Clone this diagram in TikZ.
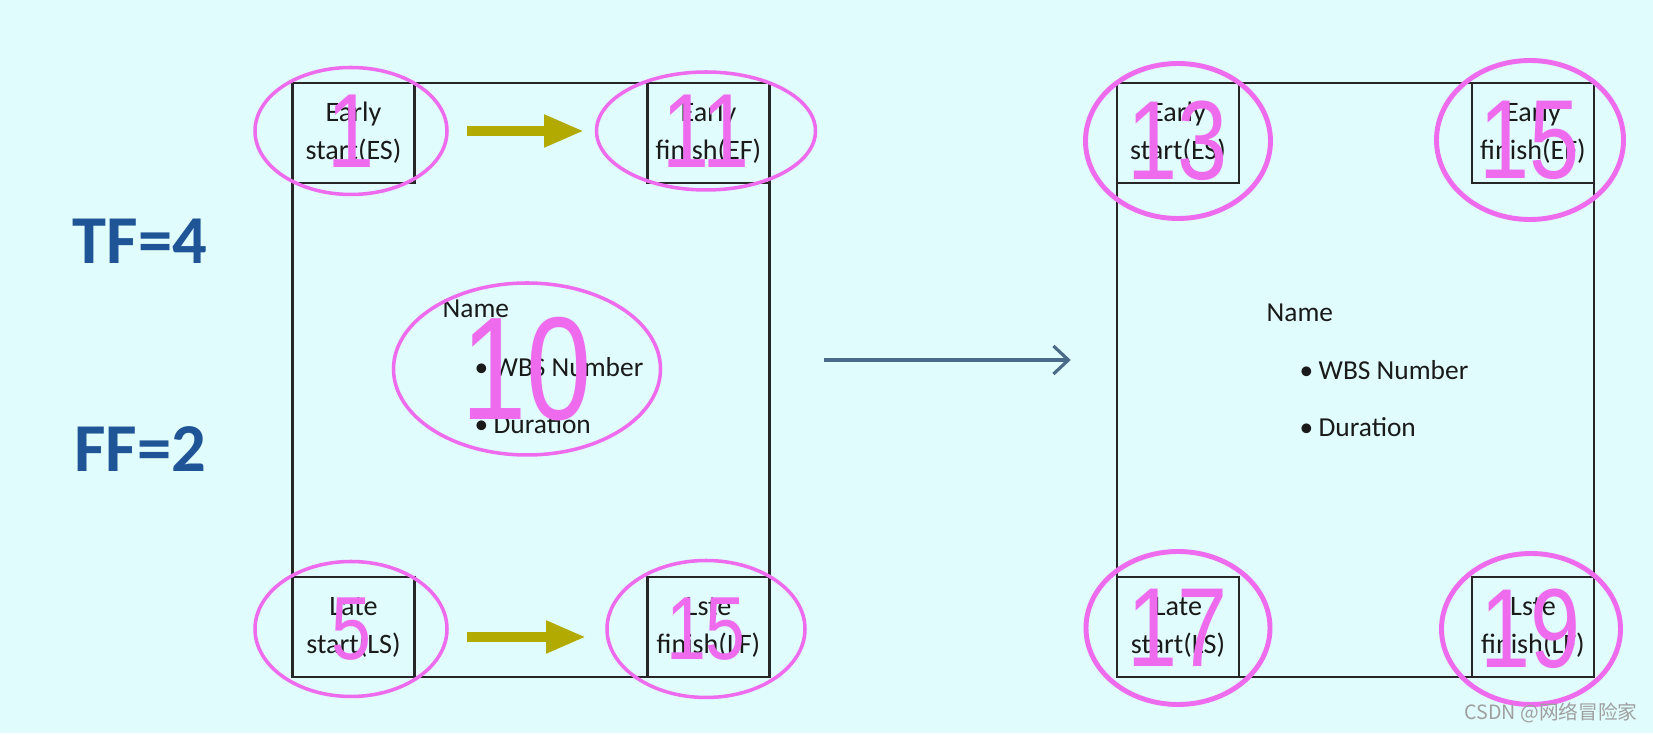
\documentclass[tikz,border=0pt]{standalone}
\usepackage{xcolor}
\usepackage{fontspec}
\usepackage{tikz}
\usetikzlibrary{positioning, arrows.meta, shapes.geometric}

\setmainfont{Carlito}
\newfontfamily\numfont[FakeStretch=0.8]{Liberation Sans}
\newfontfamily\cjkfont{Noto Sans CJK SC}

\definecolor{bgcol}{HTML}{E0FCFC}
\definecolor{boxcol}{HTML}{262626}
\definecolor{txtcol}{HTML}{1A1A1A}
\definecolor{ringcol}{HTML}{EE6BEE}
\definecolor{olivecol}{HTML}{B3AA00}
\definecolor{flowcol}{HTML}{4A6A8A}
\definecolor{slackcol}{HTML}{1F5496}

\begin{document}
\begin{tikzpicture}[x=1cm, y=-1cm,
    card/.style={draw=boxcol, line width=0.7pt, minimum width=4.77cm, minimum height=5.94cm, inner sep=0pt},
    cell/.style={draw=boxcol, line width=0.7pt, minimum width=1.22cm, minimum height=1cm, inner sep=0pt, align=center, text=txtcol, font=\fontsize{8}{10.8}\selectfont},
    item/.style={anchor=base west, inner sep=0pt, text=txtcol, font=\fontsize{7.8}{9}\selectfont},
    ring/.style={ellipse, draw=ringcol, line width=1pt, inner sep=0pt, text=ringcol, font=\numfont\fontsize{30}{30}\selectfont},
    bigring/.style={ring, line width=1.4pt, font=\numfont\fontsize{32}{32}\selectfont},
    fat/.style={draw=olivecol, line width=3.1pt, -{Triangle[length=4mm, width=3mm]}},
    flow/.style={draw=flowcol, line width=0.9pt, -{Straight Barb[length=1.5mm, width=2.8mm]}},
    slack/.style={text=slackcol, font=\bfseries\fontsize{19.5}{20}\selectfont},
    wmark/.style={text=gray!75, font=\cjkfont\fontsize{5.6}{6}\selectfont}
]
\path[fill=bgcol] (0,0) rectangle (16.53,7.33);

\node[slack] (tf) at (1.40, 2.41) {TF=4};
\node[slack] (ff) at (1.40, 4.49) {FF=2};

\node[card] (card1) at (5.31, 3.80) {};
\node[cell, anchor=north west] (es1) at (card1.north west) {Early\\start(ES)};
\node[cell, anchor=north east] (ef1) at (card1.north east) {Early\\finish(EF)};
\node[cell, anchor=south west] (ls1) at (card1.south west) {Late\\start(LS)};
\node[cell, anchor=south east] (lf1) at (card1.south east) {Lste\\finish(LF)};
\node[item] (name1) at (4.42, 3.18) {Name};
\node[item] (wbs1) at (4.74, 3.77) {\textbullet\hspace{1.5pt}WBS Number};
\node[item] (dur1) at (4.74, 4.34) {\textbullet\hspace{1.5pt}Duration};

\node[card] (card2) at (13.555, 3.80) {};
\node[cell, anchor=north west] (es2) at (card2.north west) {Early\\start(ES)};
\node[cell, anchor=north east] (ef2) at (card2.north east) {Early\\finish(EF)};
\node[cell, anchor=south west] (ls2) at (card2.south west) {Late\\start(LS)};
\node[cell, anchor=south east] (lf2) at (card2.south east) {Lste\\finish(LF)};
\node[item] (name2) at (12.66, 3.22) {Name};
\node[item] (wbs2) at (12.99, 3.80) {\textbullet\hspace{1.5pt}WBS Number};
\node[item] (dur2) at (12.99, 4.37) {\textbullet\hspace{1.5pt}Duration};

\node[ring, minimum width=1.92cm, minimum height=1.27cm] (oes1) at (3.51, 1.31) {1};
\node[ring, minimum width=2.19cm, minimum height=1.18cm] (oef1) at (7.06, 1.31) {11};
\node[ring, minimum width=2.67cm, minimum height=1.72cm, font=\numfont\fontsize{41.7}{42}\selectfont] (omid1) at (5.27, 3.69) {10};
\node[ring, minimum width=1.92cm, minimum height=1.35cm, font=\numfont\fontsize{25.5}{26}\selectfont] (ols1) at (3.51, 6.29) {5};
\node[ring, minimum width=1.98cm, minimum height=1.37cm, font=\numfont\fontsize{25.5}{26}\selectfont] (olf1) at (7.06, 6.29) {15};

\node[bigring, minimum width=1.85cm, minimum height=1.55cm] (oes2) at (11.78, 1.41) {13};
\node[bigring, minimum width=1.87cm, minimum height=1.59cm] (oef2) at (15.30, 1.40) {15};
\node[bigring, minimum width=1.84cm, minimum height=1.53cm] (ols2) at (11.78, 6.28) {17};
\node[bigring, minimum width=1.79cm, minimum height=1.51cm] (olf2) at (15.31, 6.29) {19};

\draw[fat, shorten <=1.8mm, shorten >=1.05mm] (oes1) -- (oef1);
\draw[fat, shorten <=1.8mm, shorten >=1.9mm] ([yshift=-0.8mm]ols1.east) -- ([yshift=-0.8mm]olf1.west);
\draw[flow, shorten <=5.3mm, shorten >=4.5mm] ([yshift=2mm]card1.east) -- ([yshift=2mm]card2.west);

\node[wmark] (csdn) at (15.51, 7.13) {CSDN @网络冒险家};
\end{tikzpicture}
\end{document}
